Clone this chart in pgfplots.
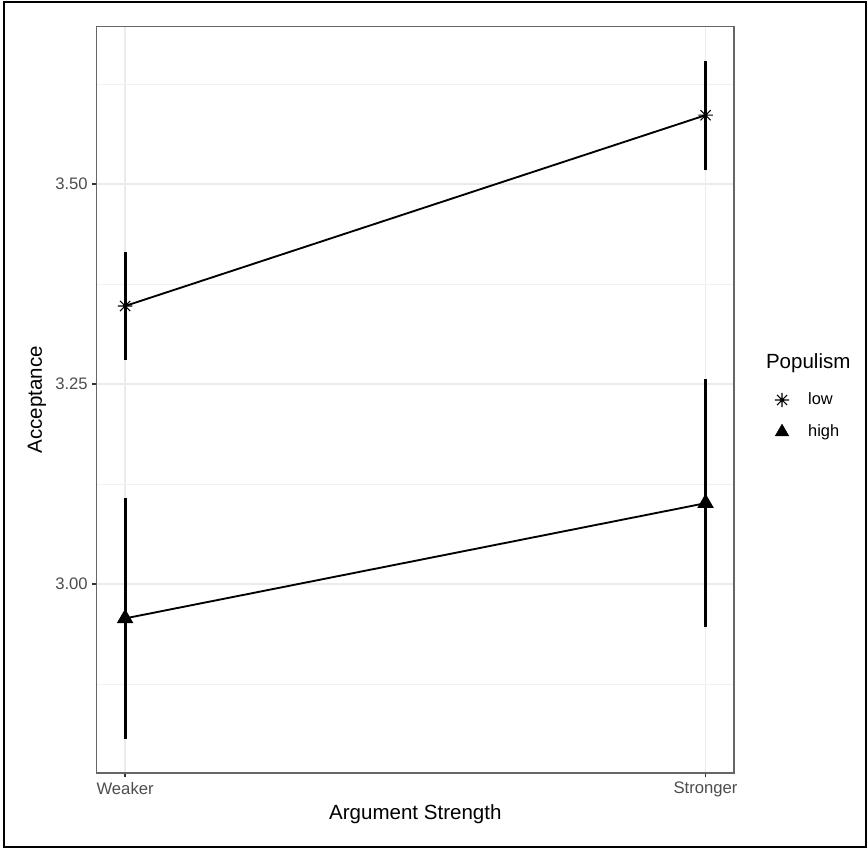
\documentclass[border=0pt]{standalone}
\usepackage{pgfplots}
\pgfplotsset{compat=1.18}
\usepackage{pgfplotstable}
\usepackage{fontspec}
\setmainfont{Liberation Sans}
\definecolor{tickgray}{HTML}{4D4D4D}
\definecolor{gridgray}{HTML}{EBEBEB}
\pgfdeclareplotmark{ast8}{%
  \pgfpathmoveto{\pgfqpoint{-\pgfplotmarksize}{0pt}}\pgfpathlineto{\pgfqpoint{\pgfplotmarksize}{0pt}}%
  \pgfpathmoveto{\pgfqpoint{0pt}{-\pgfplotmarksize}}\pgfpathlineto{\pgfqpoint{0pt}{\pgfplotmarksize}}%
  \pgfpathmoveto{\pgfqpoint{-.7071\pgfplotmarksize}{-.7071\pgfplotmarksize}}\pgfpathlineto{\pgfqpoint{.7071\pgfplotmarksize}{.7071\pgfplotmarksize}}%
  \pgfpathmoveto{\pgfqpoint{-.7071\pgfplotmarksize}{.7071\pgfplotmarksize}}\pgfpathlineto{\pgfqpoint{.7071\pgfplotmarksize}{-.7071\pgfplotmarksize}}%
  \pgfusepathqstroke}
\pgfplotstableread{
x y e
0 3.3475 0.068
1 3.586 0.068
}\lowdata
\pgfplotstableread{
x y e
0 2.957 0.151
1 3.101 0.155
}\highdata
\begin{document}
\begin{tikzpicture}
\useasboundingbox (0,0) rectangle (651pt,636.75pt);
\draw[black, line width=0.8pt] (3pt,1.5pt) rectangle (649.5pt,635.25pt);
\begin{axis}[
  at={(72.5pt,57pt)}, anchor=south west,
  scale only axis, width=478pt, height=559.7pt,
  xmin=-0.049, xmax=1.049,
  ymin=2.76375, ymax=3.6966,
  xtick={0,1}, xticklabels={Weaker,Stronger},
  ytick={3.00,3.25,3.50},
  minor ytick={2.875,3.125,3.375,3.625},
  minor tick length=0pt,
  yticklabel style={/pgf/number format/.cd, fixed, fixed zerofill, precision=2},
  /pgf/number format/assume math mode=true,
  ticklabel style={font=\fontsize{12.5}{14}\selectfont, text=tickgray},
  xtick pos=lower, ytick pos=left,
  tick align=outside, major tick length=3.2pt,
  major tick style={color=black!80, line width=1pt},
  axis line style={color=black!60, line width=0.8pt},
  xmajorgrids, ymajorgrids, yminorgrids,
  major grid style={color=gridgray, line width=1pt},
  minor grid style={color=gridgray!70, line width=0.7pt},
  xlabel={Argument Strength}, ylabel={Acceptance},
  label style={font=\fontsize{15.4}{18}\selectfont},
  xlabel style={at={(axis description cs:0.5,-0.0549)}, anchor=center},
  ylabel style={at={(axis description cs:-0.0936,0.5)}, anchor=center, rotate=0},
  legend image code/.code={\path[draw=none, fill=none] (-8pt,-6pt) rectangle (8pt,6pt); \draw[#1] plot coordinates {(0pt,0pt)};},
  legend cell align=left,
  legend style={draw=none, fill=none, inner sep=0pt,
    at={(axis description cs:1.0582,0.4784)}, anchor=west,
    font=\fontsize{12.3}{14}\selectfont,
    row sep=4.4pt,
    nodes={text height=9pt, text depth=2.6pt, inner sep=4pt},
    /tikz/every odd column/.append style={column sep=7.6pt}},
]
\addplot[forget plot, black, line width=1.4pt, mark=ast8, mark size=5.4pt,
  mark options={line width=0.8pt},
  error bars/.cd, y dir=both, y explicit, error mark=none,
  error bar style={line width=2.3pt, black}]
  table[x=x, y=y, y error=e] {\lowdata};
\addplot[forget plot, black, line width=1.4pt, mark=triangle*, mark size=5.8pt,
  error bars/.cd, y dir=both, y explicit, error mark=none,
  error bar style={line width=2.3pt, black}]
  table[x=x, y=y, y error=e] {\highdata};
\addlegendimage{only marks, black, mark=ast8, mark size=5.4pt, mark options={line width=0.8pt}}
\addlegendentry{low}
\addlegendimage{only marks, black, mark=triangle*, mark size=5.8pt}
\addlegendentry{high}
\end{axis}
\node[anchor=west, inner sep=0pt, font=\fontsize{15.4}{18}\selectfont] at (574.3pt,364.1pt) {Populism};
\end{tikzpicture}
\end{document}
